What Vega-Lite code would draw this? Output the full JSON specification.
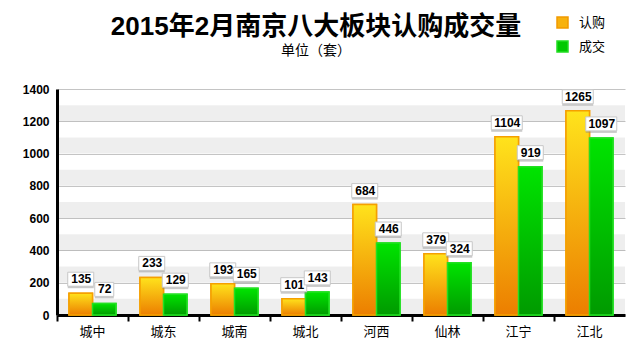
{
  "$schema": "https://vega.github.io/schema/vega-lite/v6.json",
  "width": 568,
  "height": 226,
  "autosize": {"type": "none"},
  "padding": {"left": 57, "top": 89, "right": 16, "bottom": 29},
  "background": "white",
  "title": {
    "text": "2015年2月南京八大板块认购成交量",
    "subtitle": "单位（套）",
    "font": "Liberation Sans, Noto Sans CJK SC",
    "fontSize": 26,
    "fontWeight": "bold",
    "color": "#000000",
    "subtitleFont": "Noto Sans CJK SC",
    "subtitleFontSize": 14,
    "subtitleColor": "#000000",
    "subtitlePadding": 4,
    "anchor": "middle",
    "dx": -25,
    "offset": -42
  },
  "datasets": {
    "sales": [
      {"area": "城中", "series": "认购", "v": 135},
      {"area": "城中", "series": "成交", "v": 72},
      {"area": "城东", "series": "认购", "v": 233},
      {"area": "城东", "series": "成交", "v": 129},
      {"area": "城南", "series": "认购", "v": 193},
      {"area": "城南", "series": "成交", "v": 165},
      {"area": "城北", "series": "认购", "v": 101},
      {"area": "城北", "series": "成交", "v": 143},
      {"area": "河西", "series": "认购", "v": 684},
      {"area": "河西", "series": "成交", "v": 446},
      {"area": "仙林", "series": "认购", "v": 379},
      {"area": "仙林", "series": "成交", "v": 324},
      {"area": "江宁", "series": "认购", "v": 1104},
      {"area": "江宁", "series": "成交", "v": 919},
      {"area": "江北", "series": "认购", "v": 1265},
      {"area": "江北", "series": "成交", "v": 1097}
    ],
    "bands": [
      {"lo": 0, "hi": 100},
      {"lo": 200, "hi": 300},
      {"lo": 400, "hi": 500},
      {"lo": 600, "hi": 700},
      {"lo": 800, "hi": 900},
      {"lo": 1000, "hi": 1100},
      {"lo": 1200, "hi": 1300}
    ]
  },
  "config": {
    "view": {"stroke": null},
    "axisY": {
      "title": null,
      "format": "d",
      "values": [0, 100, 200, 300, 400, 500, 600, 700, 800, 900, 1000, 1100, 1200, 1300, 1400],
      "labelExpr": "datum.value % 200 === 0 ? datum.label : ''",
      "labelFont": "Liberation Sans",
      "labelFontSize": 12,
      "labelFontWeight": "bold",
      "labelColor": "#000000",
      "labelPadding": 2,
      "domainColor": "#000000",
      "domainWidth": 3,
      "tickColor": "#000000",
      "tickWidth": 2,
      "tickSize": 6,
      "tickOpacity": {"condition": {"test": "datum.value % 200 === 0", "value": 1}, "value": 0},
      "grid": true,
      "gridColor": "#c4c4c4",
      "gridWidth": 1
    },
    "axisX": {
      "title": null,
      "labelAngle": 0,
      "labelFont": "Noto Sans CJK SC",
      "labelFontSize": 13,
      "labelColor": "#000000",
      "labelPadding": 4,
      "domainColor": "#000000",
      "domainWidth": 3,
      "tickColor": "#000000",
      "tickWidth": 2,
      "tickSize": 6,
      "bandPosition": 0,
      "grid": false
    },
    "legend": {
      "title": null,
      "orient": "none",
      "legendX": 499,
      "legendY": -73,
      "symbolType": "square",
      "symbolSize": 121,
      "symbolStrokeWidth": 1.5,
      "labelFont": "Noto Sans CJK SC",
      "labelFontSize": 13,
      "labelColor": "#000000",
      "labelOffset": 10,
      "rowPadding": 7
    }
  },
  "layer": [
    {
      "data": {"name": "bands"},
      "mark": {"type": "rect", "fill": "#000000", "fillOpacity": 0.065},
      "encoding": {
        "y": {"field": "lo", "type": "quantitative", "scale": {"domain": [0, 1400], "nice": false}},
        "y2": {"field": "hi"}
      }
    },
    {
      "data": {"name": "sales"},
      "layer": [
        {
          "mark": {"type": "bar", "fill": "#000000", "fillOpacity": 0.18, "xOffset": 2.5, "yOffset": 1},
          "encoding": {
            "x": {"field": "area", "type": "nominal", "sort": null, "scale": {"paddingInner": 0, "paddingOuter": 0}},
            "xOffset": {"field": "series", "type": "nominal", "sort": ["认购", "成交"], "scale": {"paddingInner": 0, "paddingOuter": 0.51}},
            "y": {"field": "v", "type": "quantitative"}
          }
        },
        {
          "mark": {"type": "bar", "strokeWidth": 1.5},
          "encoding": {
            "x": {"field": "area", "type": "nominal", "sort": null},
            "xOffset": {"field": "series", "type": "nominal", "sort": ["认购", "成交"]},
            "y": {"field": "v", "type": "quantitative"},
            "fill": {"field": "series", "type": "nominal", "sort": ["认购", "成交"], "scale": {"domain": ["认购", "成交"], "range": ["#f7b20e", "#00c800"]}},
            "stroke": {"field": "series", "type": "nominal", "sort": ["认购", "成交"], "scale": {"domain": ["认购", "成交"], "range": ["#f29a00", "#22dd22"]}}
          }
        },
        {
          "transform": [{"filter": "datum.series === '认购'"}],
          "mark": {
            "type": "bar",
            "stroke": "#f5a000",
            "strokeWidth": 1.5,
            "fill": {"gradient": "linear", "x1": 0, "y1": 0, "x2": 0, "y2": 1, "stops": [{"offset": 0, "color": "#ffe31c"}, {"offset": 1, "color": "#ec7e00"}]}
          },
          "encoding": {
            "x": {"field": "area", "type": "nominal", "sort": null},
            "xOffset": {"field": "series", "type": "nominal", "sort": ["认购", "成交"]},
            "y": {"field": "v", "type": "quantitative"}
          }
        },
        {
          "transform": [{"filter": "datum.series === '成交'"}],
          "mark": {
            "type": "bar",
            "stroke": "#22e022",
            "strokeWidth": 1.5,
            "fill": {"gradient": "linear", "x1": 0, "y1": 0, "x2": 0, "y2": 1, "stops": [{"offset": 0, "color": "#00e400"}, {"offset": 1, "color": "#009a00"}]}
          },
          "encoding": {
            "x": {"field": "area", "type": "nominal", "sort": null},
            "xOffset": {"field": "series", "type": "nominal", "sort": ["认购", "成交"]},
            "y": {"field": "v", "type": "quantitative"}
          }
        },
        {
          "mark": {"type": "bar", "fill": "#888888", "fillOpacity": 0.45, "xOffset": 2, "yOffset": -19, "y2Offset": -5},
          "encoding": {
            "x": {"field": "area", "type": "nominal", "sort": null},
            "xOffset": {"field": "series", "type": "nominal", "sort": ["认购", "成交"]},
            "y": {"field": "v", "type": "quantitative"},
            "y2": {"field": "v"},
            "size": {"field": "v", "type": "quantitative", "scale": {"type": "threshold", "domain": [100, 1000], "range": [19, 26, 31]}, "legend": null}
          }
        },
        {
          "mark": {"type": "bar", "fill": "#ffffff", "stroke": "#c8c8c8", "strokeWidth": 1, "xOffset": 0.5, "yOffset": -21, "y2Offset": -7},
          "encoding": {
            "x": {"field": "area", "type": "nominal", "sort": null},
            "xOffset": {"field": "series", "type": "nominal", "sort": ["认购", "成交"]},
            "y": {"field": "v", "type": "quantitative"},
            "y2": {"field": "v"},
            "size": {"field": "v", "type": "quantitative", "scale": {"type": "threshold", "domain": [100, 1000], "range": [19, 26, 31]}, "legend": null}
          }
        },
        {
          "mark": {"type": "text", "font": "Liberation Sans", "fontSize": 12, "fontWeight": "bold", "color": "#000000", "baseline": "middle", "dy": -14, "dx": 0.5},
          "encoding": {
            "x": {"field": "area", "type": "nominal", "sort": null},
            "xOffset": {"field": "series", "type": "nominal", "sort": ["认购", "成交"]},
            "y": {"field": "v", "type": "quantitative"},
            "text": {"field": "v", "type": "quantitative"}
          }
        }
      ]
    }
  ]
}
